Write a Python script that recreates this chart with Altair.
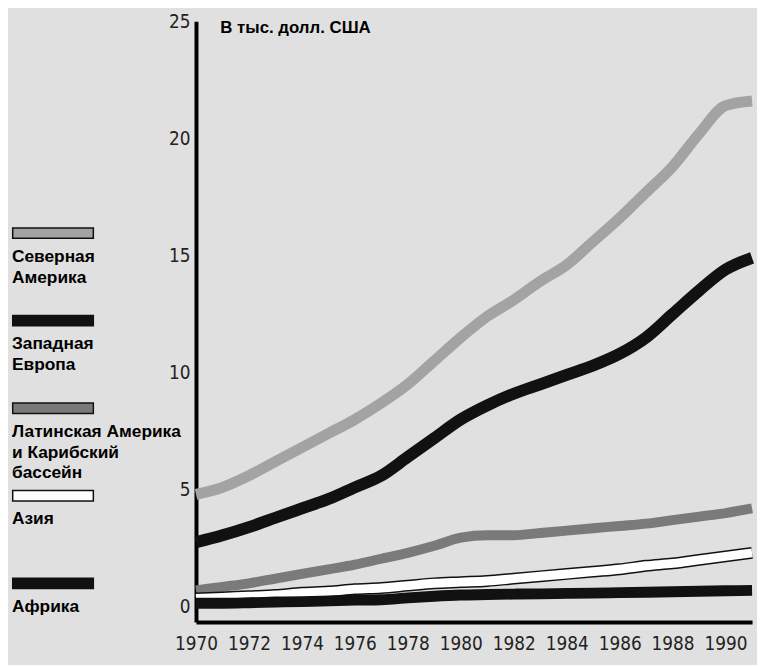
import altair as alt
import pandas as pd

years = list(range(1970, 1992))

north_america = [4.8, 5.1, 5.6, 6.2, 6.8, 7.4, 8.0, 8.7, 9.5, 10.5, 11.5, 12.4, 13.1, 13.9,
                 14.6, 15.6, 16.6, 17.7, 18.8, 20.2, 21.4, 21.6]
western_europe = [2.75, 3.05, 3.4, 3.8, 4.2, 4.6, 5.1, 5.6, 6.4, 7.2, 8.0, 8.6, 9.1, 9.5,
                  9.9, 10.3, 10.8, 11.5, 12.5, 13.5, 14.4, 14.9]
latin_america = [0.7, 0.85, 1.0, 1.2, 1.4, 1.6, 1.8, 2.05, 2.3, 2.6, 2.95, 3.05, 3.05, 3.15,
                 3.25, 3.35, 3.45, 3.55, 3.7, 3.85, 4.0, 4.2]
asia = [0.35, 0.4, 0.45, 0.5, 0.6, 0.65, 0.75, 0.8, 0.9, 1.0, 1.05, 1.1, 1.2, 1.3,
        1.4, 1.5, 1.6, 1.75, 1.85, 2.0, 2.15, 2.3]
africa = [0.15, 0.15, 0.17, 0.2, 0.22, 0.25, 0.28, 0.3, 0.38, 0.45, 0.5, 0.52, 0.54, 0.55,
          0.57, 0.58, 0.6, 0.62, 0.64, 0.66, 0.68, 0.7]

series_names = ["Северная Америка", "Западная Европа",
                "Латинская Америка и Карибский бассейн", "Азия", "Африка"]
legend_labels = ["Северная\nАмерика", "Западная\nЕвропа",
                 "Латинская Америка\nи Карибский\nбассейн", "Азия", "Африка"]
series_values = [north_america, western_europe, latin_america, asia, africa]

x_ticks = list(range(1970, 1991, 2))
y_ticks = [0, 5, 10, 15, 20, 25]

rows = []
for name, vals in zip(series_names, series_values):
    for yr, v in zip(years, vals):
        rows.append({"year": yr, "value": v, "series": name})
df = pd.DataFrame(rows)
legend_df = pd.DataFrame({"series": series_names, "label": legend_labels})

fills = ["#a3a3a3", "#111111", "#7a7a7a", "#ffffff", "#111111"]
tick_font = "Liberation Sans Narrow, DejaVu Sans Condensed, Roboto, sans-serif"

x_enc = alt.X("year:Q",
              scale=alt.Scale(domain=[1970, 1991], nice=False, zero=False),
              axis=alt.Axis(values=x_ticks, format="d", ticks=False, grid=False,
                            domainWidth=4, domainColor="black", labelFlush=False,
                            labelFont=tick_font, labelFontSize=19,
                            labelColor="#222222", labelPadding=13, title=None))
y_enc = alt.Y("value:Q",
              scale=alt.Scale(domain=[-0.65, 25], nice=False, zero=False),
              axis=alt.Axis(values=y_ticks, ticks=False, grid=False, domainWidth=4,
                            domainColor="black", labelFlush=False,
                            labelFont=tick_font, labelFontSize=19,
                            labelColor="#222222", labelPadding=6,
                            title="В тыс. долл. США", titleAngle=0, titleX=24, titleY=6,
                            titleAlign="left", titleBaseline="middle",
                            titleFont="Liberation Sans", titleFontSize=17,
                            titleFontWeight="bold", titleColor="black"))

base = alt.Chart(df)


def series_line(name, color, width):
    return base.transform_filter(alt.datum.series == name).mark_line(
        interpolate="monotone", color=color, strokeWidth=width, strokeCap="butt"
    ).encode(x=x_enc, y=y_enc)


lines = alt.layer(
    series_line(series_names[0], "#a3a3a3", 11),
    series_line(series_names[1], "#111111", 12),
    series_line(series_names[2], "#7a7a7a", 10),
    series_line(series_names[3], "#111111", 12),
    series_line(series_names[3], "#ffffff", 9),
    series_line(series_names[4], "#111111", 11),
)

ly = alt.Y("series:N", sort=series_names,
           scale=alt.Scale(type="point", domain=series_names, range=[214, 568], padding=0),
           axis=None)
leg = alt.Chart(legend_df)
leg_outline = leg.mark_rule(color="#111111", strokeWidth=12, strokeCap="butt").encode(
    x=alt.value(-186), x2=alt.value(-103), y=ly)
leg_fill = leg.mark_rule(strokeWidth=9, strokeCap="butt").encode(
    x=alt.value(-184.5), x2=alt.value(-104.5), y=ly,
    color=alt.Color("series:N", scale=alt.Scale(domain=series_names, range=fills), legend=None))
leg_text = leg.mark_text(align="left", baseline="top", dy=15, lineBreak="\n", lineHeight=21,
                         font="Liberation Sans", fontSize=17.5, fontWeight="bold",
                         color="black").encode(x=alt.value(-186), y=ly, text="label:N")
legend = alt.layer(leg_outline, leg_fill, leg_text)

chart = alt.layer(lines, legend).resolve_scale(
    y="independent"
).properties(
    width=562, height=607,
    padding={"left": 190, "top": 10, "right": 5, "bottom": 40},
    autosize=alt.AutoSizeParams(type="none"),
    background="#e0e0e0",
).configure_view(stroke=None)

chart.save("out.html", embed_options={"renderer": "svg", "actions": False})
